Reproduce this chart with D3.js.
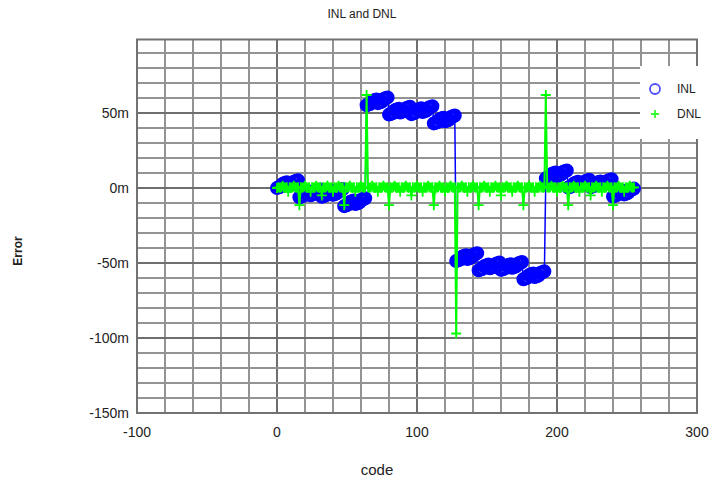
<!DOCTYPE html>
<html><head><meta charset="utf-8">
<script src="https://cdn.jsdelivr.net/npm/d3@7"></script>
<style>body{margin:0;background:#fff;} text{font-family:Arial,"Liberation Sans",sans-serif;}</style>
</head><body><svg id="c" width="723" height="494"></svg>
<script>
// values in milli-units (m)
const codes = d3.range(0, 256);
const inl = [
0,0.45,0.7,1.15,2.7,3.15,3.4,3.85,1.4,1.85,2.1,2.55,4.1,4.55,4.8,5.25,
-6.2,-5.75,-5.5,-5.05,-3.5,-3.05,-2.8,-2.35,-4.8,-4.35,-4.1,-3.65,-2.1,-1.65,-1.4,-0.95,
-5.9,-5.45,-5.2,-4.75,-3.2,-2.75,-2.5,-2.05,-4.5,-4.05,-3.8,-3.35,-1.8,-1.35,-1.1,-0.65,
-12.1,-11.65,-11.4,-10.95,-9.4,-8.95,-8.7,-8.25,-10.7,-10.25,-10.0,-9.55,-8.0,-7.55,-7.3,-6.85,
55.15,55.6,55.85,56.3,57.85,58.3,58.55,59.0,56.55,57.0,57.25,57.7,59.25,59.7,59.95,60.4,
48.95,49.4,49.65,50.1,51.65,52.1,52.35,52.8,50.35,50.8,51.05,51.5,53.05,53.5,53.75,54.2,
49.25,49.7,49.95,50.4,51.95,52.4,52.65,53.1,50.65,51.1,51.35,51.8,53.35,53.8,54.05,54.5,
43.05,43.5,43.75,44.2,45.75,46.2,46.45,46.9,44.45,44.9,45.15,45.6,47.15,47.6,47.85,48.3,
-48.7,-48.25,-48.0,-47.55,-46.0,-45.55,-45.3,-44.85,-47.3,-46.85,-46.6,-46.15,-44.6,-44.15,-43.9,-43.45,
-54.9,-54.45,-54.2,-53.75,-52.2,-51.75,-51.5,-51.05,-53.5,-53.05,-52.8,-52.35,-50.8,-50.35,-50.1,-49.65,
-54.6,-54.15,-53.9,-53.45,-51.9,-51.45,-51.2,-50.75,-53.2,-52.75,-52.5,-52.05,-50.5,-50.05,-49.8,-49.35,
-60.8,-60.35,-60.1,-59.65,-58.1,-57.65,-57.4,-56.95,-59.4,-58.95,-58.7,-58.25,-56.7,-56.25,-56.0,-55.55,
6.45,6.9,7.15,7.6,9.15,9.6,9.85,10.3,7.85,8.3,8.55,9.0,10.55,11.0,11.25,11.7,
0.25,0.7,0.95,1.4,2.95,3.4,3.65,4.1,1.65,2.1,2.35,2.8,4.35,4.8,5.05,5.5,
0.55,1.0,1.25,1.7,3.25,3.7,3.95,4.4,1.95,2.4,2.65,3.1,4.65,5.1,5.35,5.8,
-5.65,-5.2,-4.95,-4.5,-2.95,-2.5,-2.25,-1.8,-4.25,-3.8,-3.55,-3.1,-1.55,-1.1,-0.85,-0.4
];
const dnl = [
0,0.45,0.25,0.45,1.55,0.45,0.25,0.45,-2.45,0.45,0.25,0.45,1.55,0.45,0.25,0.45,
-11.45,0.45,0.25,0.45,1.55,0.45,0.25,0.45,-2.45,0.45,0.25,0.45,1.55,0.45,0.25,0.45,
-4.95,0.45,0.25,0.45,1.55,0.45,0.25,0.45,-2.45,0.45,0.25,0.45,1.55,0.45,0.25,0.45,
-11.45,0.45,0.25,0.45,1.55,0.45,0.25,0.45,-2.45,0.45,0.25,0.45,1.55,0.45,0.25,0.45,
62,0.45,0.25,0.45,1.55,0.45,0.25,0.45,-2.45,0.45,0.25,0.45,1.55,0.45,0.25,0.45,
-11.45,0.45,0.25,0.45,1.55,0.45,0.25,0.45,-2.45,0.45,0.25,0.45,1.55,0.45,0.25,0.45,
-4.95,0.45,0.25,0.45,1.55,0.45,0.25,0.45,-2.45,0.45,0.25,0.45,1.55,0.45,0.25,0.45,
-11.45,0.45,0.25,0.45,1.55,0.45,0.25,0.45,-2.45,0.45,0.25,0.45,1.55,0.45,0.25,0.45,
-97,0.45,0.25,0.45,1.55,0.45,0.25,0.45,-2.45,0.45,0.25,0.45,1.55,0.45,0.25,0.45,
-11.45,0.45,0.25,0.45,1.55,0.45,0.25,0.45,-2.45,0.45,0.25,0.45,1.55,0.45,0.25,0.45,
-4.95,0.45,0.25,0.45,1.55,0.45,0.25,0.45,-2.45,0.45,0.25,0.45,1.55,0.45,0.25,0.45,
-11.45,0.45,0.25,0.45,1.55,0.45,0.25,0.45,-2.45,0.45,0.25,0.45,1.55,0.45,0.25,0.45,
62,0.45,0.25,0.45,1.55,0.45,0.25,0.45,-2.45,0.45,0.25,0.45,1.55,0.45,0.25,0.45,
-11.45,0.45,0.25,0.45,1.55,0.45,0.25,0.45,-2.45,0.45,0.25,0.45,1.55,0.45,0.25,0.45,
-4.95,0.45,0.25,0.45,1.55,0.45,0.25,0.45,-2.45,0.45,0.25,0.45,1.55,0.45,0.25,0.45,
-11.45,0.45,0.25,0.45,1.55,0.45,0.25,0.45,-2.45,0.45,0.25,0.45,1.55,0.45,0.25,0.45
];
const xTicks = [-100, 0, 100, 200, 300];
const yTicks = [-150, -100, -50, 0, 50];
const xMinor = d3.range(-100, 301, 20);
const yMinor = d3.range(-150, 100, 10);
const seriesNames = ["INL", "DNL"];

const svg = d3.select("#c");
const x = d3.scaleLinear().domain([-100, 300]).range([137, 697]);
const y = d3.scaleLinear().domain([-150, 99]).range([413, 39.5]);

const grid = svg.append("g");
grid.selectAll("line.vx").data(xMinor).join("line")
  .attr("x1", d => x(d)).attr("x2", d => x(d)).attr("y1", y.range()[1]).attr("y2", y.range()[0])
  .attr("stroke", d => d % 100 === 0 ? "#6e6e6e" : "#939393").attr("stroke-width", 2);
grid.selectAll("line.hy").data(yMinor).join("line")
  .attr("y1", d => y(d)).attr("y2", d => y(d)).attr("x1", x.range()[0]).attr("x2", x.range()[1])
  .attr("stroke", d => d % 50 === 0 ? "#6e6e6e" : "#939393").attr("stroke-width", 2);
svg.append("rect").attr("x", x.range()[0]).attr("y", y.range()[1])
  .attr("width", x.range()[1] - x.range()[0]).attr("height", y.range()[0] - y.range()[1])
  .attr("fill", "none").attr("stroke", "#727272").attr("stroke-width", 2);

// axes labels
svg.append("g").selectAll("text").data(xTicks).join("text")
  .attr("x", d => x(d)).attr("y", 437).attr("text-anchor", "middle")
  .attr("font-size", 14).attr("fill", "#222").text(d => d);
svg.append("g").selectAll("text").data(yTicks).join("text")
  .attr("x", 129).attr("y", d => y(d) + 5).attr("text-anchor", "end")
  .attr("font-size", 14).attr("fill", "#222").text(d => d + "m");

svg.append("text").attr("x", 362).attr("y", 18).attr("text-anchor", "middle")
  .attr("font-size", 12).attr("fill", "#222").text("INL and DNL");
svg.append("text").attr("x", 377).attr("y", 475).attr("text-anchor", "middle")
  .attr("font-size", 15).attr("fill", "#222").text("code");
svg.append("text").attr("transform", "translate(22,251) rotate(-90)").attr("text-anchor", "middle")
  .attr("font-size", 12).attr("font-weight", "bold").attr("fill", "#222").text("Error");

// INL
const line = d3.line().x(d => x(d[0])).y(d => y(d[1]));
const inlPts = codes.map((c, i) => [c, inl[i]]);
const dnlPts = codes.map((c, i) => [c, dnl[i]]);
svg.append("path").attr("d", line(inlPts)).attr("fill", "none").attr("stroke", "#0000ff").attr("stroke-width", 1.5);
svg.append("g").selectAll("circle").data(inlPts).join("circle")
  .attr("cx", d => x(d[0])).attr("cy", d => y(d[1])).attr("r", 5.5)
  .attr("fill", "none").attr("stroke", "#0000ff").attr("stroke-width", 3);

// DNL
svg.append("path").attr("d", line(dnlPts)).attr("fill", "none").attr("stroke", "#00ff00").attr("stroke-width", 2);
svg.append("g").selectAll("path").data(dnlPts).join("path")
  .attr("d", d => `M${x(d[0]) - 5},${y(d[1])}H${x(d[0]) + 5}M${x(d[0])},${y(d[1]) - 5}V${y(d[1]) + 5}`)
  .attr("stroke", "#00ff00").attr("stroke-width", 1.8).attr("fill", "none");

// legend
const lg = svg.append("g");
lg.append("rect").attr("x", 640).attr("y", 66).attr("width", 83).attr("height", 73).attr("fill", "#fff");
lg.append("circle").attr("cx", 655).attr("cy", 89).attr("r", 5).attr("fill", "none")
  .attr("stroke", "#5050ff").attr("stroke-width", 1.8);
lg.append("path").attr("d", "M651,114H659M655,110V118").attr("stroke", "#33ff33").attr("stroke-width", 1.8);
lg.selectAll("text").data(seriesNames).join("text")
  .attr("x", 677).attr("y", (d, i) => 93 + i * 25).attr("font-size", 12).attr("fill", "#222").text(d => d);
</script></body></html>
